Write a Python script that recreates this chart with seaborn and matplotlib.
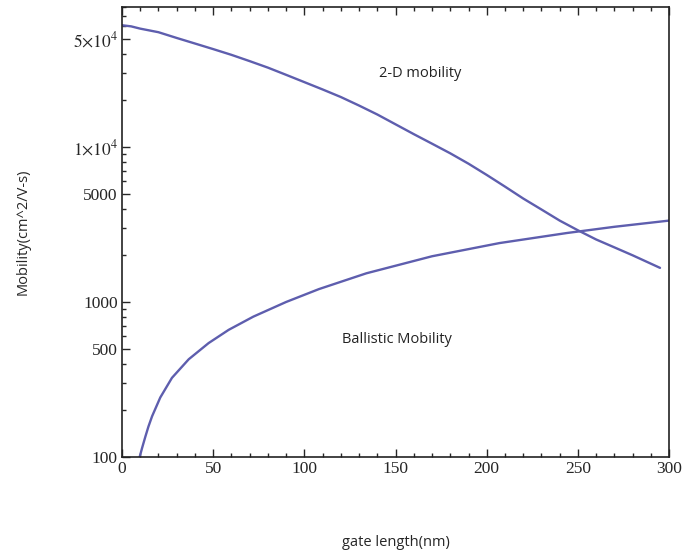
import matplotlib
matplotlib.use("Agg")
import matplotlib.pyplot as plt
import matplotlib.ticker as mticker
import seaborn as sns
import pandas as pd

# 2-D mobility curve
len_2d = [0, 5, 10, 20, 30, 40, 50, 60, 70, 80, 90, 100, 110, 120, 130, 140, 150, 160, 170,
          180, 190, 200, 210, 220, 230, 240, 250, 260, 270, 280, 295]
mob_2d = [61000, 60000, 58000, 55000, 50500, 46500, 42800, 39300, 35800, 32500, 29200, 26200,
          23500, 21000, 18500, 16200, 14000, 12100, 10500, 9100, 7800, 6600, 5550, 4650,
          3950, 3350, 2900, 2530, 2250, 2000, 1660]

# ballistic mobility curve
len_ball = [9.7, 11, 12.8, 14.5, 16.5, 21, 27.4, 36.6, 47.5, 58.5, 72, 90, 108, 134, 170,
            207, 244, 270, 300]
mob_ball = [100, 114, 135, 157, 183, 242, 324, 427, 543, 661, 804, 1000, 1211, 1531, 1972,
            2399, 2786, 3055, 3350]

ytick_vals = [100, 500, 1000, 5000, 10000, 50000]
ytick_labels = ["100", "500", "1000", "5000", r"$1{\times}10^4$", r"$5{\times}10^4$"]
xtick_vals = [0, 50, 100, 150, 200, 250, 300]

sns.set_style("ticks")
plt.rcParams["font.family"] = ["Liberation Serif", "DejaVu Serif"]
plt.rcParams["mathtext.fontset"] = "stix"

df_2d = pd.DataFrame({"L": len_2d, "mu": mob_2d})
df_b = pd.DataFrame({"L": len_ball, "mu": mob_ball})

fig = plt.figure(figsize=(6.97, 5.59), dpi=100)
ax = fig.add_axes([0.175, 0.1825, 0.785, 0.805])
line_col = "#5e5eae"
sns.lineplot(data=df_2d, x="L", y="mu", ax=ax, color=line_col, linewidth=1.7)
sns.lineplot(data=df_b, x="L", y="mu", ax=ax, color=line_col, linewidth=1.7)

ax.set_yscale("log")
ax.set_xlim(0, 300)
ax.set_ylim(100, 80000)
ax.set_yticks(ytick_vals)
ax.set_yticklabels(ytick_labels)
ax.yaxis.set_minor_locator(mticker.LogLocator(base=10, subs=[2, 3, 4, 6, 7, 8, 9]))
ax.yaxis.set_minor_formatter(mticker.NullFormatter())
ax.set_xticks(xtick_vals)
ax.xaxis.set_minor_locator(mticker.MultipleLocator(10))

ax.tick_params(which="both", direction="in", top=True, right=False, labelsize=12.5, width=1)
ax.tick_params(which="major", length=6, pad=3)
ax.tick_params(which="minor", length=3)
for s in ax.spines.values():
    s.set_linewidth(1.2)
    s.set_color("#222222")

ax.set_xlabel("gate length(nm)", family=["Open Sans", "DejaVu Sans"], fontsize=10.5, labelpad=42)
ax.set_ylabel("Mobility(cm^2/V-s)", family=["Open Sans", "DejaVu Sans"], fontsize=10.5, labelpad=30)

ax.text(163.5, 30000, "2-D mobility", family=["Open Sans", "DejaVu Sans"], fontsize=10.5,
        ha="center", va="center", color="#222222")
ax.text(151, 570, "Ballistic Mobility", family=["Open Sans", "DejaVu Sans"], fontsize=10.5,
        ha="center", va="center", color="#222222")

fig.savefig("out.png", dpi=100)
